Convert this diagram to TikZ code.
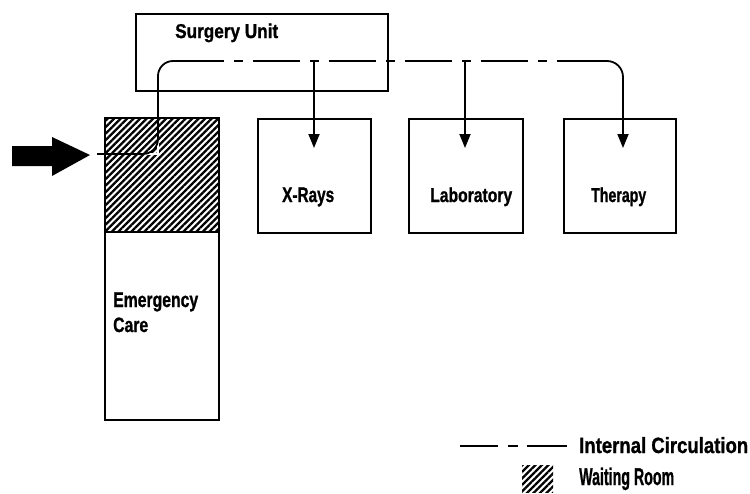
\documentclass[tikz,border=0pt]{standalone}
\usepackage{fontspec}
\setmainfont{Liberation Sans}[BoldFeatures={FakeBold=1.2}]
\usepackage{graphicx}
\usetikzlibrary{arrows.meta,patterns.meta,calc}

% label scaled to a given width and height (bold sans)
\newcommand{\fitlbl}[3]{\resizebox{#1pt}{#2pt}{\bfseries #3}}

\begin{document}
\begin{tikzpicture}[x=1pt,y=-1pt,
  wall/.style={draw=black,line width=1.7pt,rectangle,inner sep=0pt,anchor=north west},
  hatch/.style={pattern={Lines[angle=45,distance=4.6pt,line width=2.3pt]}},
  lbl/.style={inner sep=0pt,anchor=base west},
  flow/.style={draw=black,line width=1.8pt},
  halo/.style={draw=white,line width=2.8pt},
  drop/.style={flow,-{Triangle[length=14pt,width=11pt]}},
  circ/.style={flow,dash pattern=on 47pt off 10pt on 9pt off 10pt}
]
\useasboundingbox (0,0) rectangle (750,493);

% rooms
\node[wall,minimum width=252pt,minimum height=77pt] (surg) at (135,13) {};
\node[wall,minimum width=114pt,minimum height=302pt] (emer) at (104,117) {};
\node[wall,hatch,minimum width=114pt,minimum height=114pt] (wait) at (104,117) {};
\node[wall,minimum width=113pt,minimum height=114pt] (xray) at (257,118) {};
\node[wall,minimum width=114pt,minimum height=114pt] (lab) at (408,118) {};
\node[wall,minimum width=112pt,minimum height=114pt] (ther) at (563,118) {};

% labels
\node[lbl] (tsurg) at (175,38) {\fitlbl{103}{14.5}{Surgery Unit}};
\node[lbl] (temer) at (113,307) {\fitlbl{85}{14.5}{Emergency}};
\node[lbl] (tcare) at (113,332) {\fitlbl{35}{14.5}{Care}};
\node[lbl] (txray) at (282,202) {\fitlbl{52}{14.5}{X-Rays}};
\node[lbl] (tlab) at (430,202) {\fitlbl{82}{14.5}{Laboratory}};
\node[lbl] (tther) at (591,202) {\fitlbl{55}{14.5}{Therapy}};

% entrance arrow
\fill[black] (12,146) -- (52,146) -- (52,137) -- (90,155) -- (52,176) -- (52,166) -- (12,166) -- cycle;

% circulation route points
\coordinate (in) at (97,154);
\coordinate (turnA) at (158,154);
\coordinate (topA) at (158,61);
\coordinate (dashA) at (177,61);
\coordinate (dashB) at (604,61);
\coordinate (topB) at (623,61);
\coordinate (therIn) at (623,148);
\coordinate (xrTop) at (314,61);
\coordinate (xrIn) at (314,148);
\coordinate (lbTop) at (465,61);
\coordinate (lbIn) at (465,148);

% route through the waiting room
\draw[halo] (in) -- (turnA) -- (158,117);
\draw[flow,rounded corners=15pt] (in) -- (turnA) -- (topA) -- (dashA);
\draw[circ] (dashA) -- (dashB);
\draw[drop,rounded corners=16pt] (dashB) -- (topB) -- (therIn);
\draw[drop] (xrTop) -- (xrIn);
\draw[drop] (lbTop) -- (lbIn);

% legend
\coordinate (lgA) at (460,446);
\coordinate (lgB) at (498,446);
\coordinate (lgC) at (508,446);
\coordinate (lgD) at (518,446);
\coordinate (lgE) at (527,446);
\coordinate (lgF) at (567,446);
\draw[flow,line width=1.4pt] (lgA) -- (lgB);
\draw[flow,line width=1.4pt] (lgC) -- (lgD);
\draw[flow,line width=1.4pt] (lgE) -- (lgF);
\node[inner sep=0pt,anchor=north west,hatch,minimum width=31pt,minimum height=27pt] (lgbox) at (522,465) {};
\node[lbl] (tcirc) at (579,453) {\fitlbl{169}{16}{Internal Circulation}};
\node[lbl] (twait) at (579,485) {\fitlbl{95}{17.5}{Waiting Room}};
\end{tikzpicture}
\end{document}
